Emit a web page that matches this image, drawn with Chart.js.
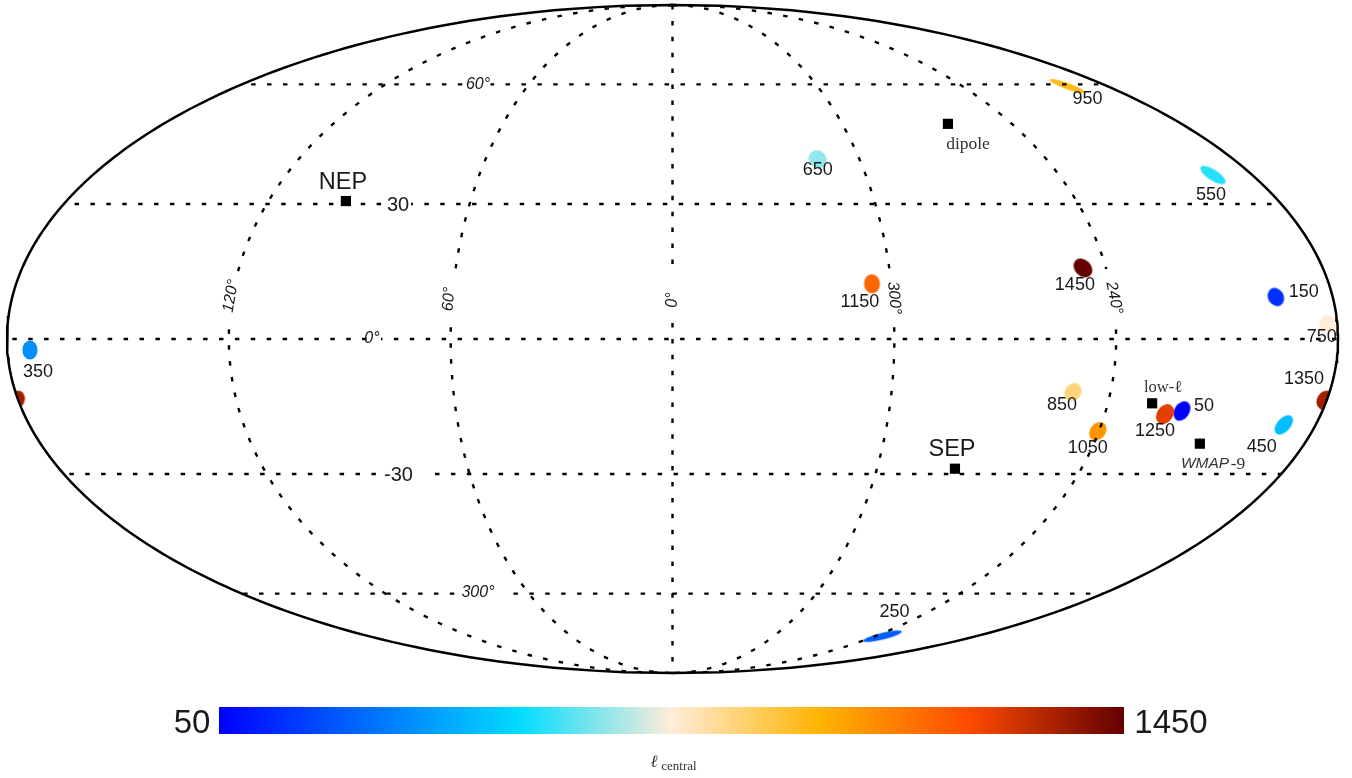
<!DOCTYPE html>
<html>
<head>
<meta charset="utf-8">
<title>Hemispherical asymmetry directions</title>
<script src="https://cdn.jsdelivr.net/npm/chart.js@4"></script>
<style>
    html, body { margin: 0; padding: 0; background: #fff; }
    #wrap { position: relative; width: 1352px; height: 778px; overflow: hidden; }
    canvas { position: absolute; left: 0; }
    #skyChart { top: 0; }
    #barChart { top: 690px; }
</style>
</head>
<body>
<div id="wrap">
    <canvas id="skyChart" width="1352" height="778"></canvas>
    <canvas id="barChart" width="1352" height="88"></canvas>
</div>
<script>
// central multipole of each bin, galactic longitude and latitude
const ellCentral = [50, 150, 250, 350, 450, 550, 650, 750, 850, 950, 1050, 1150, 1250, 1350, 1450];
const blobLon = [218.9, 195.5, 235.6, 173.9, 188.9, 192.2, 313.4, 182.6, 250.3, 196.5, 240.3, 305.3, 223.3, 180.5, 246.4];
const blobLat = [-15.8, 9.2, -73.1, -2.4, -18.9, 36.8, 40.6, 3.3, -11.6, 59.5, -20.3, 12.1, -16.5, -13.4, 15.6];

const refNames = ['NEP', 'dipole', 'SEP', 'low', 'WMAP'];
const refLon = [97.0, 262.6, 277.1, 227.8, 209.8];
const refLat = [30.7, 49.4, -28.8, -14.1, -23.1];

const gridLats = [60, 30, 0, -30, -60];
const gridLons = [120, 60, 0, 300, 240];

const barMin = 50;
const barMax = 1450;
const barStops = [0, 0.332, 0.5, 0.664, 0.828, 1];
const barColors = [[0, 0, 255], [0, 221, 255], [255, 237, 217], [255, 180, 0], [255, 75, 0], [100, 0, 0]];

// --- MOLLWEIDE ---
const toRad = Math.PI / 180;

function mollweide(offsetDeg, lat) {
    // offsetDeg is degrees right of the map centre
    let theta = lat * toRad;
    const target = Math.PI * Math.sin(lat * toRad);
    for (let i = 0; i < 60; i++) {
        const denom = 2 + 2 * Math.cos(2 * theta);
        if (Math.abs(denom) < 1e-9) break;
        theta -= (2 * theta + Math.sin(2 * theta) - target) / denom;
    }
    return { x: offsetDeg / 180 * Math.cos(theta), y: Math.sin(theta) };
}

// longitude grows to the left, 180 sits on the right rim
const offsetOf = (lon) => (lon > 180 ? 360 - lon : -lon);
const project = (lon, lat) => mollweide(offsetOf(lon), lat);

function rangeOf(from, to, step) {
    const out = [];
    for (let v = from; step > 0 ? v <= to + 1e-9 : v >= to - 1e-9; v += step) out.push(v);
    return out;
}

// --- COLOUR MAP ---
function ellColor(ell) {
    const t = (ell - barMin) / (barMax - barMin);
    let i = 0;
    while (i < barStops.length - 2 && t > barStops[i + 1]) i++;
    const f = (t - barStops[i]) / (barStops[i + 1] - barStops[i]);
    const rgb = barColors[i].map((c, k) => Math.round(c + (barColors[i + 1][k] - c) * f));
    return `rgb(${rgb.join(',')})`;
}

// --- BLOB SHAPES: semi axes in px and tilt in degrees, same order as ellCentral ---
const blobShape = [
    [10.5, 7.5, -58], [9.5, 7.8, 60], [20, 3.4, -14], [9.6, 7.6, 90], [11.5, 6.7, -48],
    [14.5, 5.5, 33], [9.5, 8.5, 40], [9, 8.5, 90], [9.5, 8, -50], [19, 3.2, 20],
    [10, 7.8, -52], [9.5, 8, 85], [10.8, 8, -55], [10, 8, -60], [10.5, 8.2, 45]
];

function blobSprite(color, shape) {
    const size = Math.ceil(shape[0] * 2 + 4);
    const c = document.createElement('canvas');
    c.width = size;
    c.height = size;
    const g = c.getContext('2d');
    g.fillStyle = color;
    g.beginPath();
    g.ellipse(size / 2, size / 2, shape[0], shape[1], shape[2] * toRad, 0, Math.PI * 2);
    g.fill();
    return c;
}

// label offsets from the blob centre, px
const blobLabelOffset = [
    [22, -5], [28, -5], [12, -24], [8, 22], [-22, 22], [-2, 20], [0, 11], [-6, 13],
    [-11, 13], [20, 13], [-10, 17], [-12, 18], [-10, 17], [-21, -21], [-8, 17]
];

const blobPoints = ellCentral.map((ell, i) => project(blobLon[i], blobLat[i]));
const blobSprites = ellCentral.map((ell, i) => blobSprite(ellColor(ell), blobShape[i]));

// the 1350 bin straddles the rim so it shows up on both sides
const wrapIndex = ellCentral.indexOf(1350);
blobPoints.push(mollweide(-blobLon[wrapIndex], blobLat[wrapIndex]));
blobSprites.push(blobSprites[wrapIndex]);

// --- DATASETS ---
const outline = rangeOf(-90, 90, 1).map(lat => mollweide(180, lat))
    .concat(rangeOf(90, -90, -1).map(lat => mollweide(-180, lat)));

const gridDash = { borderColor: '#000', borderWidth: 2.4, borderDash: [4.5, 11.4], pointRadius: 0, showLine: true, tension: 0, order: 2 };

// dash phase of each parallel so the first dash lands where it does in the figure
const parallelPhase = [6.6, 5.1, 10.6, 10.3, 14.6];

const parallels = gridLats.map((lat, i) => ({
    ...gridDash,
    borderDashOffset: parallelPhase[i],
    data: [mollweide(-180, lat), mollweide(180, lat)]
}));
const meridians = gridLons.map(lon => ({
    ...gridDash,
    data: rangeOf(90, -90, -1).map(lat => project(lon, lat))
}));

const blobDataset = {
    label: 'blobs',
    data: blobPoints,
    showLine: false,
    pointStyle: blobSprites,
    pointRadius: 8,
    order: 5
};

const refDataset = {
    label: 'refs',
    data: refNames.map((name, i) => project(refLon[i], refLat[i])),
    showLine: false,
    pointStyle: 'rect',
    pointRadius: 7.2,
    pointBackgroundColor: '#000',
    pointBorderWidth: 0,
    order: 1
};

const outlineDataset = {
    data: outline,
    showLine: true,
    borderColor: '#000',
    borderWidth: 2.5,
    pointRadius: 0,
    tension: 0,
    order: 0
};

// --- TEXT ON THE MAP ---
const sans = '"Liberation Sans", Arial, sans-serif';
const serif = '"Liberation Serif", "DejaVu Serif", serif';
const inkColor = '#1a1a1a';

function putText(ctx, text, x, y, font, color, angle) {
    ctx.save();
    ctx.translate(x, y);
    if (angle) ctx.rotate(angle * toRad);
    ctx.font = font;
    ctx.fillStyle = color || inkColor;
    ctx.textAlign = 'center';
    ctx.textBaseline = 'middle';
    ctx.fillText(text, 0, 0);
    ctx.restore();
}

function whiteBox(ctx, x, y, w, h) {
    ctx.fillStyle = '#fff';
    ctx.fillRect(x - w / 2, y - h / 2, w, h);
}

const ellipseClip = {
    id: 'ellipseClip',
    beforeDatasetDraw(chart, args) {
        if (chart.data.datasets[args.index].label !== 'blobs') return;
        const { x, y } = chart.scales;
        const ctx = chart.ctx;
        const cx = x.getPixelForValue(0);
        const cy = y.getPixelForValue(0);
        ctx.save();
        ctx.beginPath();
        ctx.ellipse(cx, cy, x.getPixelForValue(1) - cx, cy - y.getPixelForValue(1), 0, 0, Math.PI * 2);
        ctx.clip();
    },
    afterDatasetDraw(chart, args) {
        if (chart.data.datasets[args.index].label === 'blobs') chart.ctx.restore();
    }
};

const mapLabels = {
    id: 'mapLabels',
    afterDatasetsDraw(chart) {
        const ctx = chart.ctx;
        const { x, y } = chart.scales;
        const italic = 'italic 16px ' + sans;

        // multipole bin labels hang off their blob
        ellCentral.forEach((ell, i) => {
            const px = x.getPixelForValue(blobPoints[i].x);
            const py = y.getPixelForValue(blobPoints[i].y);
            putText(ctx, String(ell), px + blobLabelOffset[i][0], py + blobLabelOffset[i][1], '18px ' + sans);
        });

        // latitude labels sit on a white patch that breaks the dashes
        whiteBox(ctx, 478, 85, 25, 16);
        putText(ctx, '60°', 478, 85, italic);
        whiteBox(ctx, 398, 205, 26, 20);
        putText(ctx, '30', 398, 205, '20px ' + sans);
        whiteBox(ctx, 374, 339, 14, 14);
        putText(ctx, '0°', 372, 339, italic);
        whiteBox(ctx, 401, 474, 47, 20);
        putText(ctx, '-30', 398.5, 475, '20px ' + sans);
        whiteBox(ctx, 481.5, 594, 47, 16);
        putText(ctx, '300°', 478, 593, italic);

        // longitude labels, same thing along the meridians
        whiteBox(ctx, 232, 296, 16, 48);
        whiteBox(ctx, 451, 296, 14, 48);
        whiteBox(ctx, 673, 296, 14, 48);
        whiteBox(ctx, 893, 296, 14, 48);
        whiteBox(ctx, 1113, 298, 18, 58);
        putText(ctx, '120°', 231, 296, italic, inkColor, -80);
        putText(ctx, '60°', 449, 299, italic, inkColor, -86);
        putText(ctx, '0°', 673, 300, italic, inkColor, -90);
        putText(ctx, '300°', 894, 298, italic, inkColor, 85);
        putText(ctx, '240°', 1114, 298, italic, inkColor, 78);

        // reference directions
        putText(ctx, 'NEP', 343, 182.5, '23.5px ' + sans);
        putText(ctx, 'SEP', 952, 449.5, '23.5px ' + sans);
        putText(ctx, 'dipole', 968, 144, '17.5px ' + serif, '#333');
        putText(ctx, 'low-ℓ', 1163, 388, '16.5px ' + serif, '#333');
        putText(ctx, 'WMAP', 1205, 464, 'italic 15.5px ' + sans, '#333');
        putText(ctx, '-9', 1238, 464, '17.5px ' + serif, '#333');
    }
};

new Chart(document.getElementById('skyChart').getContext('2d'), {
    type: 'scatter',
    data: { datasets: [outlineDataset, refDataset, ...parallels, ...meridians, blobDataset] },
    options: {
        responsive: false,
        animation: false,
        layout: { padding: 0, autoPadding: false },
        plugins: { legend: { display: false }, tooltip: { enabled: false } },
        scales: {
            x: { type: 'linear', display: false, min: -672.5 / 665.5, max: 679.5 / 665.5 },
            y: { type: 'linear', display: false, min: -439 / 334, max: 339 / 334 }
        }
    },
    plugins: [ellipseClip, mapLabels]
});

// --- COLOUR BAR ---
const barLabels = {
    id: 'barLabels',
    afterDraw(chart) {
        const ctx = chart.ctx;
        const { left, right, top, bottom } = chart.chartArea;
        const mid = (top + bottom) / 2;
        putText(ctx, String(barMin), left - 27, mid + 3, '33px ' + sans);
        putText(ctx, String(barMax), right + 47, mid + 3, '33px ' + sans);
        putText(ctx, 'ℓ', 654, 73, 'italic 17px ' + serif, '#333');
        putText(ctx, 'central', 679, 77, '13px ' + serif, '#333');
    }
};

new Chart(document.getElementById('barChart').getContext('2d'), {
    type: 'bar',
    data: {
        labels: ['central'],
        datasets: [{
            data: [[barMin, barMax]],
            barPercentage: 1,
            categoryPercentage: 1,
            backgroundColor: (context) => {
                const area = context.chart.chartArea;
                if (!area) return '#000';
                const grad = context.chart.ctx.createLinearGradient(area.left, 0, area.right, 0);
                barStops.forEach((s, i) => grad.addColorStop(s, `rgb(${barColors[i].join(',')})`));
                return grad;
            }
        }]
    },
    options: {
        indexAxis: 'y',
        responsive: false,
        animation: false,
        layout: { padding: { left: 219, right: 228, top: 17, bottom: 44 } },
        plugins: { legend: { display: false }, tooltip: { enabled: false } },
        scales: {
            x: { type: 'linear', display: false, min: barMin, max: barMax },
            y: { display: false }
        }
    },
    plugins: [barLabels]
});
</script>
</body>
</html>
